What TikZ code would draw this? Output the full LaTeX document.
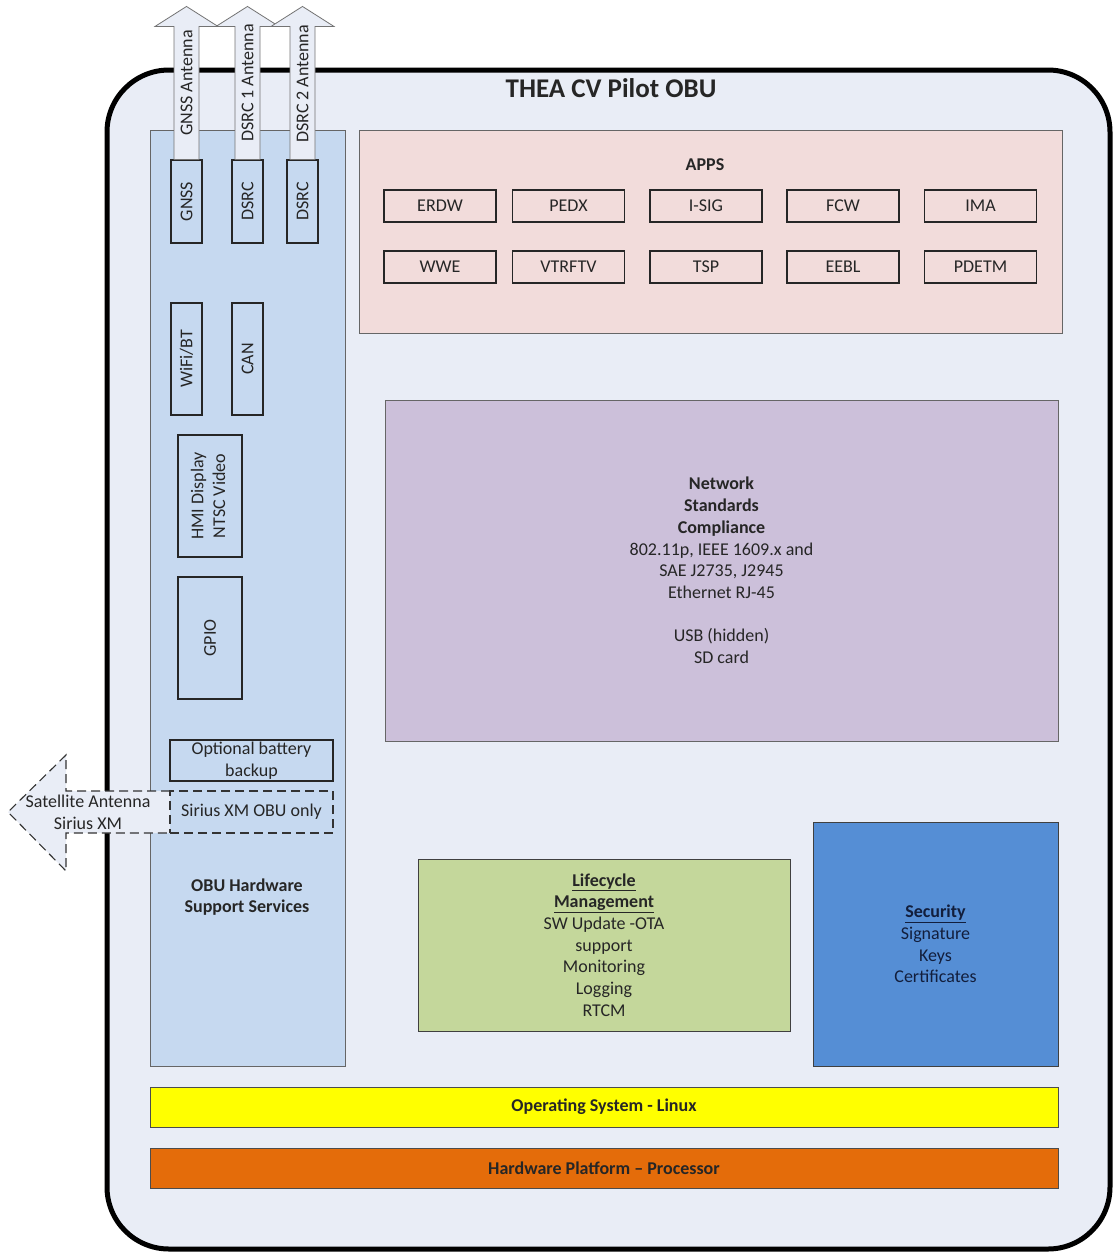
\documentclass[tikz,border=0pt]{standalone}
\usepackage{fontspec}
\setmainfont{Carlito}
\usepackage{graphicx}
\usetikzlibrary{calc}

\definecolor{shellbg}{RGB}{233,237,246}
\definecolor{hwblue}{RGB}{198,217,240}
\definecolor{appsrose}{RGB}{242,220,219}
\definecolor{netlilac}{RGB}{204,192,218}
\definecolor{lifegreen}{RGB}{196,215,155}
\definecolor{secblue}{RGB}{85,142,213}
\definecolor{osyellow}{RGB}{255,255,0}
\definecolor{hworange}{RGB}{228,108,10}

\begin{document}
\begin{tikzpicture}[
    x=1pt,y=-1pt,
    every node/.style={font=\fontsize{18}{21.7}\selectfont, text=black!85},
    shell/.style={draw=black, line width=5pt, fill=shellbg, rounded corners=62pt, inner sep=0pt},
    panel/.style={draw=black!60, line width=0.8pt, inner sep=0pt, align=center},
    part/.style={draw=black!85, line width=1.1pt, inner sep=0pt, align=center},
    app/.style={part, minimum width=112, minimum height=32},
    bar/.style={draw=black!70, line width=0.8pt, minimum width=908, minimum height=40,
      font=\fontsize{18}{21.7}\selectfont\bfseries},
    antenna/.style={draw=black!55, line width=0.8pt, fill=shellbg},
    dashline/.style={dash pattern=on 9pt off 5pt, draw=black!80, line width=1.1pt}
  ]
    \useasboundingbox (0,0) rectangle (1113,1254);

    \node[shell, minimum width=1003, minimum height=1179] (obu) at (608.5,659.5) {};
    \node[font=\fontsize{27}{30}\selectfont\bfseries] (title) at (611,88) {THEA CV Pilot OBU};

    % hardware support column
    \node[panel, fill=hwblue, minimum width=195, minimum height=936] (hwpanel) at (247.5,598) {};
    \node[font=\fontsize{18}{21.7}\selectfont\bfseries, align=center] (hwlabel) at (247,897)
      {OBU Hardware\\Support Services};

    % antennas
    \node[part, fill=hwblue, minimum width=31, minimum height=83] (gnss) at (186.5,201.5)
      {\rotatebox{90}{GNSS}};
    \node[part, fill=hwblue, minimum width=31, minimum height=83] (dsrca) at (247.5,201.5)
      {\rotatebox{90}{DSRC}};
    \node[part, fill=hwblue, minimum width=31, minimum height=83] (dsrcb) at (302.5,201.5)
      {\rotatebox{90}{DSRC}};

    \draw[antenna] ([xshift=-12.5pt]gnss.north) -- ++(0,-133) -- ++(-19,0) -- ++(31.5,-20)
      -- ++(31.5,20) -- ++(-19,0) -- ++(0,133) -- cycle;
    \draw[antenna] ([xshift=-12.5pt]dsrca.north) -- ++(0,-133) -- ++(-19,0) -- ++(31.5,-20)
      -- ++(31.5,20) -- ++(-19,0) -- ++(0,133) -- cycle;
    \draw[antenna] ([xshift=-12.5pt]dsrcb.north) -- ++(0,-133) -- ++(-19,0) -- ++(31.5,-20)
      -- ++(31.5,20) -- ++(-19,0) -- ++(0,133) -- cycle;
    \node[rotate=90] (gnssant) at (186.5,83) {GNSS Antenna};
    \node[rotate=90] (dsrcaant) at (247.5,83) {DSRC 1 Antenna};
    \node[rotate=90] (dsrcbant) at (302.5,84) {DSRC 2 Antenna};

    \node[part, fill=hwblue, minimum width=31, minimum height=112] (wifi) at (186.5,359)
      {\rotatebox{90}{WiFi/BT}};
    \node[part, fill=hwblue, minimum width=31, minimum height=112] (can) at (247.5,359)
      {\rotatebox{90}{CAN}};
    \node[part, fill=hwblue, minimum width=64, minimum height=122] (hmi) at (210,496)
      {\rotatebox{90}{\begin{tabular}{@{}c@{}}HMI Display\\NTSC Video\end{tabular}}};
    \node[part, fill=hwblue, minimum width=64, minimum height=122] (gpio) at (210,638)
      {\rotatebox{90}{GPIO}};
    \node[part, fill=hwblue, minimum width=163, minimum height=41] (battery) at (251.5,760.5)
      {Optional battery\\backup};

    % satellite antenna (Sirius XM only)
    \coordinate (sirtop) at (170,791);
    \coordinate (sirbot) at (170,833);
    \draw[dashline, fill=shellbg] (sirtop) -- (66,791) -- (66,755) -- (8,812) -- (66,871)
      -- (66,833) -- (sirbot);
    \node[align=center] (satant) at (88,812) {Satellite Antenna\\Sirius XM};
    \node[part, dashline, fill=hwblue, minimum width=163, minimum height=42] (sirius) at (251.5,812)
      {Sirius XM OBU only};

    % apps
    \node[panel, fill=appsrose, minimum width=703, minimum height=203] (apps) at (710.5,231.5) {};
    \node[font=\fontsize{18}{21.7}\selectfont\bfseries] (appstitle) at (705,165) {APPS};
    \node[app] (erdw) at (440,206) {ERDW};
    \node[app] (pedx) at (568.5,206) {PEDX};
    \node[app] (isig) at (706,206) {I-SIG};
    \node[app] (fcw) at (843,206) {FCW};
    \node[app] (ima) at (980.5,206) {IMA};
    \node[app] (wwe) at (440,267) {WWE};
    \node[app] (vtrftv) at (568.5,267) {VTRFTV};
    \node[app] (tsp) at (706,267) {TSP};
    \node[app] (eebl) at (843,267) {EEBL};
    \node[app] (pdetm) at (980.5,267) {PDETM};

    % middle and lower blocks
    \node[panel, fill=netlilac, minimum width=673, minimum height=341] (network) at (721.5,570.5)
      {\textbf{Network}\\\textbf{Standards}\\\textbf{Compliance}\\802.11p, IEEE 1609.x and\\
       SAE J2735, J2945\\Ethernet RJ-45\\[21.7pt]USB (hidden)\\SD card};
    \node[panel, draw=black!75, fill=lifegreen, minimum width=372, minimum height=172] (lifecycle) at (604,945)
      {\textbf{\underline{Lifecycle}}\\\textbf{\underline{Management}}\\SW Update -OTA\\support\\
       Monitoring\\Logging\\RTCM};
    \node[panel, draw=black!75, fill=secblue, text={rgb,255:red,18;green,30;blue,60},
      minimum width=245, minimum height=244] (security) at (935.5,944)
      {\textbf{\underline{Security}}\\Signature\\Keys\\Certificates};

    \node[bar, fill=osyellow] (os) at (604,1107) {Operating System - Linux};
    \node[bar, fill=hworange] (platform) at (604,1168) {Hardware Platform -- Processor};
  \end{tikzpicture}
\end{document}
